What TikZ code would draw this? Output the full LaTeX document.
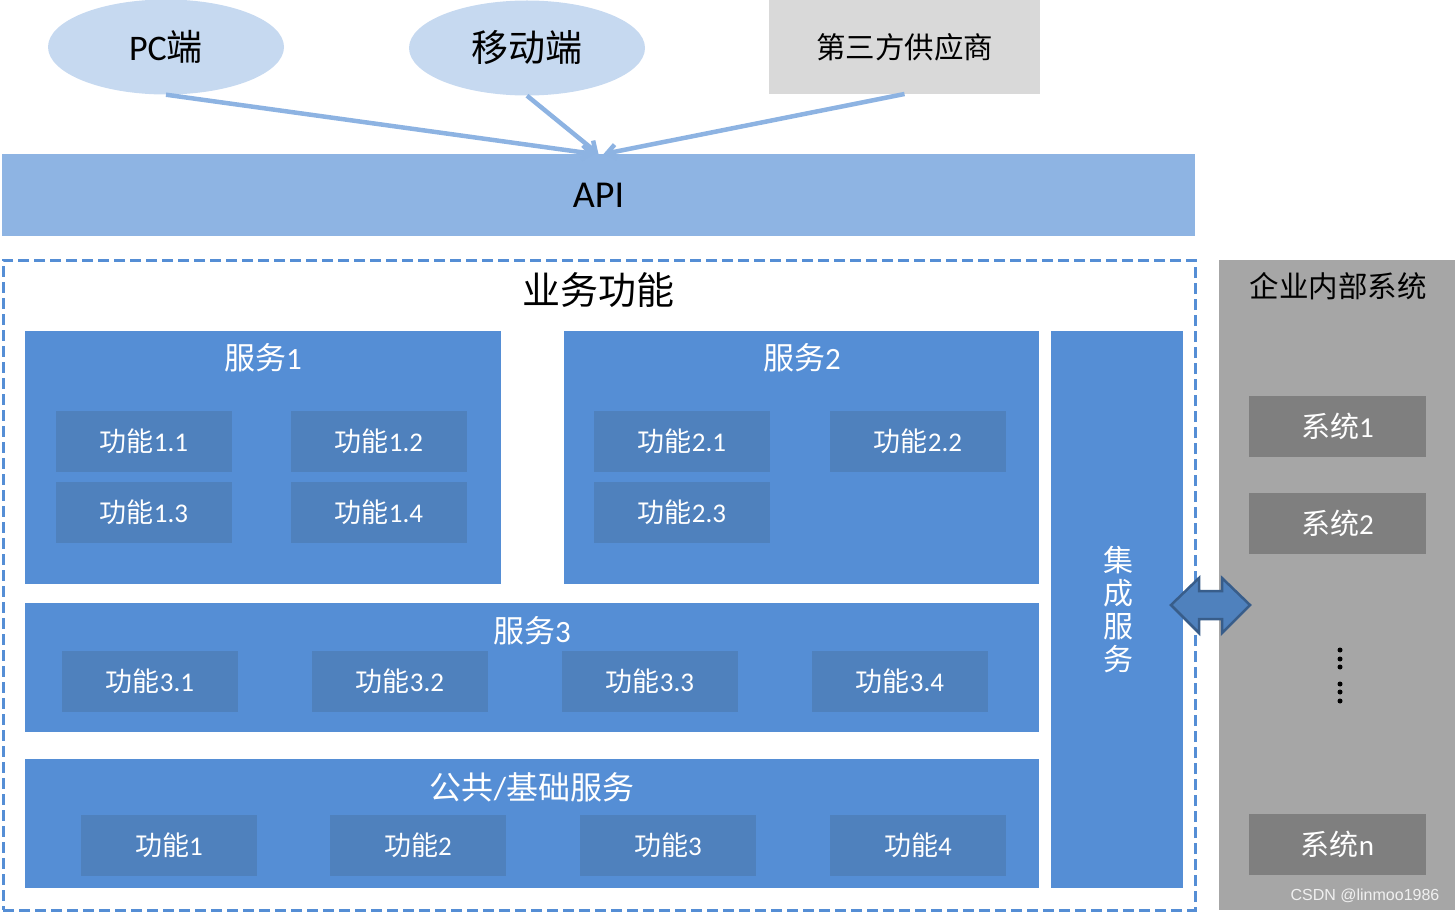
\documentclass[tikz,border=0pt]{standalone}
\usepackage{fontspec}
\setmainfont{Carlito}
\newfontfamily\cjk{Noto Sans CJK SC}
\newfontfamily\wmfont{Liberation Sans}
\usetikzlibrary{arrows.meta,shapes.geometric}
\definecolor{lightblue}{RGB}{198,217,240}
\definecolor{apiblue}{RGB}{142,180,227}
\definecolor{linkblue}{RGB}{141,179,226}
\definecolor{svcblue}{RGB}{85,142,213}
\definecolor{funcblue}{RGB}{79,129,189}
\definecolor{darkblue}{RGB}{56,93,138}
\definecolor{lightgray}{RGB}{217,217,217}
\definecolor{panelgray}{RGB}{166,166,166}
\definecolor{sysgray}{RGB}{127,127,127}
\newcommand\zh[1]{{\cjk #1}}
\newcommand\fs[1]{\fontsize{#1}{#1}\selectfont}
\begin{document}
\begin{tikzpicture}[x=1pt,y=-1pt,
  box/.style={anchor=north west,inner sep=0pt,outer sep=0pt},
  func/.style={box,fill=funcblue,text=white,minimum width=176,minimum height=61,font=\fs{27}},
  svc/.style={box,fill=svcblue},
  sys/.style={box,fill=sysgray,text=white,minimum width=177,minimum height=61,font=\fs{29}},
  ttl/.style={text=white,inner sep=0pt,font=\fs{31}},
  client/.style={ellipse,fill=lightblue,inner sep=0pt,minimum width=236,minimum height=95},
  link/.style={draw=linkblue,line width=4.5pt,-{Straight Barb[length=9pt,width=14pt]}},
  dot/.style={circle,fill=black,inner sep=0pt,minimum size=5}]
\useasboundingbox (0,0) rectangle (1455,912);

% clients
\node[client,font=\fs{36}] (pc) at (166,47) {PC\zh{端}};
\node[client,font=\fs{37}] (mob) at (527,48) {\zh{移动端}};
\node[box,fill=lightgray,minimum width=271,minimum height=94,font=\fs{29.5}] (third) at (769,0) {\zh{第三方供应商}};

% API
\node[box,fill=apiblue,minimum width=1193,minimum height=82,font=\fs{38}] (api) at (2,154) {API};

\draw[link] (pc.south) -- ([xshift=-4pt]api.north);
\draw[link] (mob.south) -- (api.north);
\draw[link] (third.south) -- ([xshift=5pt]api.north);

% business box
\node[box,draw=svcblue,line width=3pt,dash pattern=on 11pt off 5pt,minimum width=1192,minimum height=650] (biz) at (3,260) {};
\node[inner sep=0pt,font=\fs{38}] (biztitle) at (598,290) {\zh{业务功能}};

% service 1
\node[svc,minimum width=476,minimum height=253] (s1) at (25,331) {};
\node[ttl] (s1t) at (263,358) {\zh{服务}1};
\node[func] (f11) at (56,411) {\zh{功能}1.1};
\node[func] (f12) at (291,411) {\zh{功能}1.2};
\node[func] (f13) at (56,482) {\zh{功能}1.3};
\node[func] (f14) at (291,482) {\zh{功能}1.4};

% service 2
\node[svc,minimum width=475,minimum height=253] (s2) at (564,331) {};
\node[ttl] (s2t) at (802,358) {\zh{服务}2};
\node[func] (f21) at (594,411) {\zh{功能}2.1};
\node[func] (f22) at (830,411) {\zh{功能}2.2};
\node[func] (f23) at (594,482) {\zh{功能}2.3};

% service 3
\node[svc,minimum width=1014,minimum height=129] (s3) at (25,603) {};
\node[ttl] (s3t) at (532,631) {\zh{服务}3};
\node[func] (f31) at (62,651) {\zh{功能}3.1};
\node[func] (f32) at (312,651) {\zh{功能}3.2};
\node[func] (f33) at (562,651) {\zh{功能}3.3};
\node[func] (f34) at (812,651) {\zh{功能}3.4};

% common
\node[svc,minimum width=1014,minimum height=129] (s4) at (25,759) {};
\node[ttl,font=\fs{32}] (s4t) at (532,787) {\zh{公共}/\zh{基础服务}};
\node[func] (f1) at (81,815) {\zh{功能}1};
\node[func] (f2) at (330,815) {\zh{功能}2};
\node[func] (f3) at (580,815) {\zh{功能}3};
\node[func] (f4) at (830,815) {\zh{功能}4};

% integration
\node[svc,minimum width=132,minimum height=557] (integ) at (1051,331) {};
\node[text=white,inner sep=0pt,align=center,font={\fontsize{30}{33}\selectfont\cjk}] (integt) at (1118,610) {集\\成\\服\\务};

% enterprise panel
\node[box,fill=panelgray,minimum width=236,minimum height=650] (ent) at (1219,260) {};
\node[inner sep=0pt,font=\fs{29.5}] (entt) at (1338,286) {\zh{企业内部系统}};
\node[sys] (sys1) at (1249,396) {\zh{系统}1};
\node[sys] (sys2) at (1249,493) {\zh{系统}2};
\node[sys] (sysn) at (1249,814) {\zh{系统}n};
\foreach \yy [count=\i] in {650,659,667,684,692,701}
  \node[dot] (d\i) at (1340,\yy) {};

% double arrow
\draw[fill=funcblue,draw=darkblue,line width=2.5pt,line join=miter]
  (1171,605) -- (1199,578) -- (1199,591) -- (1222,591) -- (1222,578) -- (1250,605)
  -- (1222,633) -- (1222,619) -- (1199,619) -- (1199,633) -- cycle;

% watermark
\node[inner sep=0pt,text=white!88!gray,font=\wmfont\fs{16}] (wm) at (1365,896) {CSDN @linmoo1986};
\end{tikzpicture}
\end{document}
